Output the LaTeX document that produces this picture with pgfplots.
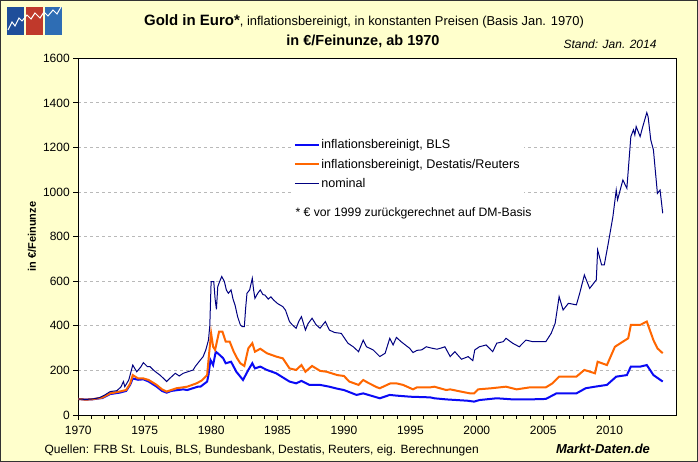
\documentclass[border=0pt]{standalone}
\usepackage{pgfplots}
\pgfplotsset{compat=1.18}
\usepackage{fontspec}
\setmainfont{Liberation Sans}
\definecolor{bgyellow}{HTML}{FFFFCC}
\definecolor{blsblue}{HTML}{0A0AF5}
\definecolor{destorange}{HTML}{FF6600}
\definecolor{nomnavy}{HTML}{000080}
\definecolor{logob}{HTML}{1F4E9A}
\definecolor{logor}{HTML}{C0392B}
\definecolor{logobb}{HTML}{2E6DB4}
\begin{document}
\begin{tikzpicture}[x=1pt,y=1pt]
\fill[bgyellow] (0,0) rectangle (698,462);
\draw[black!80,line width=1pt] (0.5,0.5) rectangle (697.5,461.5);
% logo
\fill[logob] (7,427) rectangle (24,455);
\fill[logor] (26,427) rectangle (43,455);
\fill[logobb] (45,427) rectangle (62,455);
\draw[white,line width=1pt] (8,432) -- (12,440) -- (15,436) -- (19,444) -- (22,441) -- (27,447) -- (31,443) -- (35,449) -- (40,444) -- (44,450) -- (48,446) -- (53,452) -- (57,448) -- (61,455);
% titles
\node[anchor=base] at (364,436) {\fontsize{15}{17}\selectfont\bfseries Gold in Euro*\mdseries\fontsize{12.9}{14}\selectfont, inflationsbereinigt, in konstanten Preisen (Basis Jan. 1970)};
\node[anchor=base] at (363,416) {\fontsize{14.5}{16}\selectfont\bfseries in €/Feinunze, ab 1970};
\node[anchor=base] at (610,413) {\fontsize{12}{14}\selectfont\itshape Stand: Jan. 2014};
\node[anchor=base west] at (41,8) {\fontsize{12}{14}\selectfont Quellen: FRB St. Louis, BLS, Bundesbank, Destatis, Reuters, eig. Berechnungen};
\node[anchor=base] at (603,8) {\fontsize{13}{15}\selectfont\bfseries\itshape Markt-Daten.de};
\begin{axis}[
  at={(78.3pt,47pt)}, anchor=south west,
  width=597.7pt, height=356.7pt, scale only axis,
  axis background/.style={fill=white},
  xmin=1970, xmax=2015, ymin=0, ymax=1600,
  xtick={1970,1975,...,2010}, minor x tick num=4,
  ytick={0,200,...,1600},
  /pgf/number format/1000 sep={},
  /pgf/number format/assume math mode=true,
  ticklabel style={font=\fontsize{12}{14}\selectfont},
  xticklabel style={yshift=-3pt},
  tick align=outside, xtick pos=bottom, ytick pos=left,
  major tick length=5pt, minor tick length=4pt,
  tick style={black, line width=0.8pt},
  axis line style={black, line width=0.8pt},
  ymajorgrids, grid style={dashed, gray!55, line width=0.8pt},
  ylabel={\bfseries in €/Feinunze}, ylabel style={font=\fontsize{11}{13}\selectfont},
  legend cell align=left,
  legend style={at={(0.3554,0.79)}, anchor=north west, draw=none, fill=white, inner xsep=3pt, inner ysep=4pt, font=\fontsize{12.6}{14}\selectfont, row sep=5pt, nodes={inner xsep=1.5pt}},
]
\addlegendimage{legend image code/.code={\draw[blsblue, line width=2pt] (0pt,0pt) -- (24pt,0pt);}}
\addlegendentry{inflationsbereinigt, BLS}
\addlegendimage{legend image code/.code={\draw[destorange, line width=2pt] (0pt,0pt) -- (24pt,0pt);}}
\addlegendentry{inflationsbereinigt, Destatis/Reuters}
\addlegendimage{legend image code/.code={\draw[nomnavy, line width=1pt] (0pt,0pt) -- (24pt,0pt);}}
\addlegendentry{nominal}
\addplot[color=blsblue, line width=2pt, forget plot] coordinates {
(1970.0,72)(1970.5,69)(1971.0,70)(1971.8,76)(1972.4,94)(1973.1,100)(1973.6,108)(1973.9,135)(1974.1,164)(1974.5,158)(1974.9,160)(1975.3,150)(1975.9,127)(1976.3,108)(1976.65,100)(1977.0,108)(1977.9,115)(1978.2,112)(1979.0,127)(1979.2,127)(1979.7,150)(1979.8,179)(1979.95,247)(1980.15,224)(1980.35,284)(1980.65,269)(1980.9,255)(1981.1,232)(1981.5,239)(1981.9,194)(1982.4,157)(1982.8,202)(1983.1,232)(1983.3,209)(1983.7,217)(1984.2,202)(1984.9,187)(1985.9,150)(1986.4,142)(1986.8,153)(1987.4,135)(1988.2,135)(1988.9,127)(1989.5,118)(1990.0,112)(1990.95,90)(1991.45,97)(1992.7,75)(1993.45,90)(1993.95,87)(1995.0,82)(1996.5,79)(1996.8,75)(1997.7,70)(1999.3,64)(1999.8,60)(2000.2,67)(2001.5,75)(2002.7,70)(2004.0,70)(2005.2,72)(2006.0,97)(2006.2,97)(2007.5,97)(2008.2,120)(2008.9,127)(2009.8,135)(2010.5,172)(2011.3,179)(2011.6,217)(2012.3,217)(2012.8,224)(2013.3,179)(2014.0,150)
};
\addplot[color=destorange, line width=2pt, forget plot] coordinates {
(1970.0,72)(1970.5,69)(1971.0,70)(1971.8,78)(1972.4,97)(1973.1,105)(1973.6,112)(1973.9,140)(1974.1,179)(1974.5,164)(1974.9,164)(1975.3,157)(1975.9,135)(1976.3,115)(1976.65,105)(1977.0,112)(1977.4,120)(1978.2,127)(1978.9,142)(1979.3,155)(1979.7,179)(1979.85,277)(1980.0,366)(1980.15,306)(1980.3,292)(1980.6,374)(1980.85,374)(1981.1,329)(1981.4,329)(1981.7,284)(1981.95,255)(1982.2,232)(1982.5,220)(1982.8,299)(1983.1,322)(1983.3,284)(1983.7,297)(1984.2,277)(1984.9,262)(1985.4,254)(1985.9,209)(1986.4,202)(1986.8,224)(1987.1,194)(1987.6,220)(1988.2,198)(1988.7,194)(1989.5,179)(1990.0,175)(1990.4,150)(1991.1,135)(1991.45,157)(1991.8,145)(1992.5,124)(1992.7,120)(1993.5,142)(1993.95,142)(1994.45,135)(1995.2,115)(1995.5,124)(1996.5,124)(1996.8,127)(1997.7,112)(1998.0,115)(1998.8,105)(1999.5,97)(1999.8,97)(2000.1,115)(2001.1,120)(2002.2,127)(2003.0,115)(2004.0,124)(2005.2,124)(2005.7,142)(2006.2,172)(2007.5,172)(2008.1,202)(2008.9,187)(2009.1,239)(2009.8,224)(2010.4,306)(2011.0,329)(2011.4,344)(2011.6,404)(2012.3,404)(2012.8,419)(2013.3,336)(2013.6,299)(2014.0,277)
};
\addplot[color=nomnavy, line width=1pt, forget plot] coordinates {
(1970.0,72)(1970.5,70)(1970.9,71)(1971.3,74)(1971.6,78)(1972.0,90)(1972.4,105)(1972.9,109)(1973.2,125)(1973.4,150)(1973.5,127)(1973.8,157)(1974.1,224)(1974.4,194)(1974.7,215)(1974.9,235)(1975.2,217)(1975.4,217)(1975.65,202)(1975.9,190)(1976.15,179)(1976.4,165)(1976.65,150)(1976.9,165)(1977.3,187)(1977.6,175)(1977.9,187)(1978.3,195)(1978.65,202)(1978.8,217)(1979.1,240)(1979.4,262)(1979.6,292)(1979.8,336)(1979.9,400)(1980.0,598)(1980.2,598)(1980.3,520)(1980.4,474)(1980.5,576)(1980.65,600)(1980.8,621)(1980.9,610)(1981.0,598)(1981.15,560)(1981.3,546)(1981.5,561)(1981.65,520)(1981.8,493)(1982.0,440)(1982.2,404)(1982.35,396)(1982.5,396)(1982.6,480)(1982.7,546)(1982.9,561)(1983.1,613)(1983.2,560)(1983.3,523)(1983.5,545)(1983.7,561)(1983.9,540)(1984.05,538)(1984.3,520)(1984.5,530)(1984.7,516)(1985.0,500)(1985.4,486)(1985.6,470)(1985.9,419)(1986.1,405)(1986.4,389)(1986.6,420)(1986.8,441)(1987.1,381)(1987.3,410)(1987.6,434)(1987.9,405)(1988.2,389)(1988.6,419)(1988.9,381)(1989.3,370)(1989.8,366)(1990.3,322)(1990.7,306)(1991.1,284)(1991.45,336)(1991.7,306)(1992.2,292)(1992.7,262)(1993.1,277)(1993.45,344)(1993.7,314)(1993.95,348)(1994.3,329)(1994.6,315)(1994.95,299)(1995.2,280)(1995.5,290)(1995.85,292)(1996.2,306)(1996.6,300)(1997.0,295)(1997.3,300)(1997.6,306)(1998.0,262)(1998.35,284)(1998.85,250)(1999.35,262)(1999.7,244)(1999.85,292)(2000.2,306)(2000.7,314)(2001.2,284)(2001.5,322)(2002.0,329)(2002.2,344)(2002.7,322)(2003.2,306)(2003.7,336)(2004.2,329)(2004.7,329)(2005.2,329)(2005.6,366)(2005.9,411)(2006.2,531)(2006.5,471)(2006.9,501)(2007.5,494)(2007.75,546)(2008.1,628)(2008.5,568)(2009.0,606)(2009.1,740)(2009.4,673)(2009.6,673)(2009.9,770)(2010.25,890)(2010.5,1009)(2010.6,965)(2011.0,1054)(2011.3,1017)(2011.6,1249)(2011.8,1279)(2011.9,1256)(2012.0,1294)(2012.3,1249)(2012.5,1294)(2012.8,1356)(2012.9,1338)(2013.1,1234)(2013.3,1189)(2013.6,994)(2013.8,1009)(2014.0,905)
};
\node[anchor=west, font=\fontsize{12.2}{14}\selectfont] at (rel axis cs:0.3575,0.566) {* € vor 1999 zurückgerechnet auf DM-Basis};
\end{axis}
\end{tikzpicture}
\end{document}
